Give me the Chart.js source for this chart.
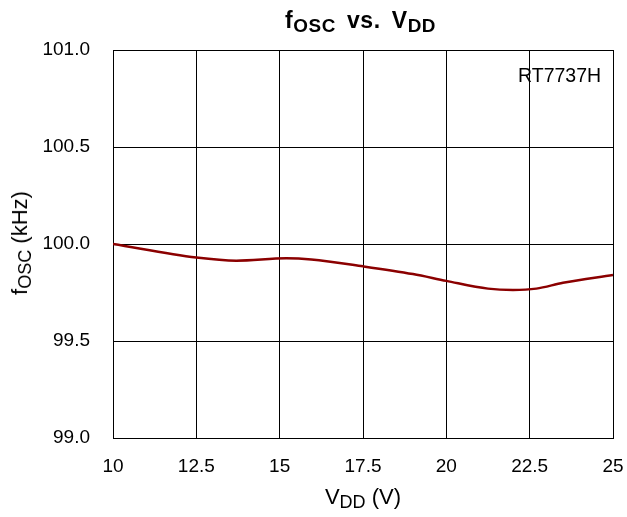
<!DOCTYPE html>
<html>
<head>
<meta charset="utf-8">
<script src="https://cdn.jsdelivr.net/npm/chart.js@4"></script>
<style>
  body { margin: 0; background: #fff; font-family: "Liberation Sans", Arial, sans-serif; }
  #wrap { position: relative; width: 627px; height: 517px; }
  .lbl { position: absolute; white-space: nowrap; color: #000; line-height: 1; }
  .lbl sub { font-size: 0.82em; vertical-align: -0.22em; line-height: 0; }
  #titulo { left: 285px; top: 9px; font-size: 23px; font-weight: bold; letter-spacing: 0.6px; word-spacing: 4px; }
  #ejeX { left: 363px; top: 486px; transform: translateX(-50%); font-size: 22px; }
  #ejeY { left: 20px; top: 243px; transform: translate(-50%, -50%) rotate(-90deg); font-size: 22px; }
  #marca { left: 518px; top: 66px; font-size: 19.5px; }
</style>
</head>
<body>
<div id="wrap">
  <canvas id="grafico" width="627" height="517"></canvas>
  <div class="lbl" id="titulo">f<sub>OSC</sub> vs. V<sub>DD</sub></div>
  <div class="lbl" id="ejeX">V<sub>DD</sub> (V)</div>
  <div class="lbl" id="ejeY">f<sub>OSC</sub> (kHz)</div>
  <div class="lbl" id="marca">RT7737H</div>
</div>
<script>
// ======= Datos =======
const vdd = [10, 12.5, 13.7, 15.2, 15.95, 17.5, 19.0, 20.0, 21.25, 22.0, 22.7, 23.5, 25];
const fosc = [100.0, 99.93, 99.914, 99.926, 99.92, 99.885, 99.845, 99.81, 99.77, 99.763, 99.77, 99.80, 99.84];
const ticksX = [10, 12.5, 15, 17.5, 20, 22.5, 25];
const ticksY = [99.0, 99.5, 100.0, 100.5, 101.0];

const fuente = { family: "'Liberation Sans', Arial, sans-serif", size: 19 };

const ctx = document.getElementById('grafico').getContext('2d');
new Chart(ctx, {
    type: 'line',
    data: {
        datasets: [{
            data: vdd.map((v, i) => ({ x: v, y: fosc[i] })),
            borderColor: '#8b0000',
            borderWidth: 2.5,
            pointRadius: 0,
            cubicInterpolationMode: 'monotone',
            fill: false
        }]
    },
    options: {
        responsive: false,
        animation: false,
        layout: { padding: { left: 0, top: 50, right: 14, bottom: 0 } },
        plugins: { legend: { display: false }, tooltip: { enabled: false } },
        scales: {
            x: {
                type: 'linear',
                min: 10,
                max: 25,
                afterFit: s => { s.height = 79; s.paddingLeft = 0; s.paddingRight = 0; },
                afterBuildTicks: s => { s.ticks = ticksX.map(v => ({ value: v })); },
                grid: { color: '#000', lineWidth: 1, drawTicks: false },
                border: { color: '#000', width: 1 },
                ticks: { color: '#000', font: fuente, padding: 17, maxRotation: 0,
                         callback: v => String(v) }
            },
            y: {
                min: 99.0,
                max: 101.0,
                afterFit: s => { s.width = 113; s.paddingTop = 0; s.paddingBottom = 0; },
                afterBuildTicks: s => { s.ticks = ticksY.map(v => ({ value: v })); },
                grid: { color: '#000', lineWidth: 1, drawTicks: false },
                border: { color: '#000', width: 1 },
                ticks: { color: '#000', font: fuente, padding: 23,
                         callback: v => Number(v).toFixed(1) }
            }
        }
    }
});
</script>
</body>
</html>
